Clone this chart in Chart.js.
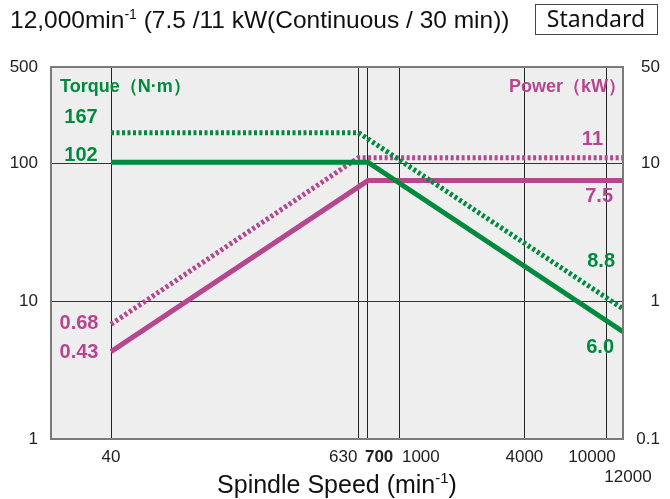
<!DOCTYPE html>
<html>
<head>
<meta charset="utf-8">
<script src="https://cdn.jsdelivr.net/npm/chart.js@4.4.0/dist/chart.umd.min.js"></script>
<style>
  html, body { margin: 0; padding: 0; background: #fff; }
  #wrap { position: relative; width: 670px; height: 499px; }
</style>
</head>
<body>
<div id="wrap"><canvas id="chart"></canvas></div>
<script>
// tick values
const speedTicks = [40, 630, 700, 1000, 4000, 10000, 12000];
const torqueTicks = [1, 10, 100, 500];
const powerTicks = [0.1, 1, 10, 50];

// curves (speed in min-1, torque in N·m, power in kW)
const speeds30 = [40, 630, 12000];
const speedsCont = [40, 700, 12000];
const torque30 = [167, 167, 8.8];
const torqueCont = [102, 102, 6.0];
const power30 = [0.68, 11, 11];
const powerCont = [0.43, 7.5, 7.5];

const GREEN = '#008a3e';
const MAGENTA = '#b5468f';
const FONT = '"Liberation Sans", Arial, Helvetica, sans-serif';

const points = (xs, ys) => xs.map((x, i) => ({ x, y: ys[i] }));

const lineStyle = (color, dotted) => ({
  borderColor: color,
  borderWidth: 5,
  borderDash: dotted ? [3, 2.5] : [],
  pointRadius: 0,
  tension: 0,
  fill: false
});

// draws runs of text with optional superscript parts
const drawRuns = (ctx, runs, x, y, align) => {
  const widths = runs.map(r => {
    ctx.font = `${r.bold ? 'bold ' : ''}${r.size}px ${r.family || FONT}`;
    return ctx.measureText(r.text).width;
  });
  const total = widths.reduce((a, b) => a + b, 0);
  let cx = align === 'center' ? x - total / 2 : align === 'right' ? x - total : x;
  runs.forEach((r, i) => {
    ctx.font = `${r.bold ? 'bold ' : ''}${r.size}px ${r.family || FONT}`;
    ctx.textAlign = 'left';
    ctx.fillText(r.text, cx, y - (r.rise || 0));
    cx += widths[i];
  });
};

const chartDecor = {
  id: 'chartDecor',
  beforeDraw(chart) {
    const { ctx, chartArea: a } = chart;
    ctx.save();
    ctx.fillStyle = '#eeeeee';
    ctx.fillRect(a.left, a.top, a.right - a.left, a.bottom - a.top);
    ctx.restore();
  },
  afterDraw(chart) {
    const { ctx, chartArea: a, scales } = chart;
    const xs = scales.x, yt = scales.y, yp = scales.y1;
    ctx.save();

    // frame
    ctx.strokeStyle = '#7a7a7a';
    ctx.lineWidth = 2;
    ctx.strokeRect(a.left, a.top, a.right - a.left, a.bottom - a.top);

    // speed tick labels
    const xLabelStyle = {
      630: ['right', -1, 0],
      700: ['left', -3, 0],
      1000: ['left', 2, 0],
      10000: ['right', 9, 0],
      12000: ['center', 5, 20]
    };
    ctx.fillStyle = '#222';
    ctx.textBaseline = 'middle';
    speedTicks.forEach(v => {
      const [align, dx, dy] = xLabelStyle[v] || ['center', 0, 0];
      ctx.font = `${v === 700 ? 'bold ' : ''}17px ${FONT}`;
      ctx.textAlign = align;
      ctx.fillText(String(v), xs.getPixelForValue(v) + dx, a.bottom + 18 + dy);
    });

    // axis title
    ctx.fillStyle = '#111';
    ctx.textBaseline = 'alphabetic';
    drawRuns(ctx, [
      { text: 'Spindle Speed (min', size: 25 },
      { text: '-1', size: 15, rise: 10 },
      { text: ')', size: 25 }
    ], 337, 493, 'center');

    // chart title
    drawRuns(ctx, [
      { text: '12,000min', size: 24.5 },
      { text: '-1', size: 14, rise: 9 },
      { text: ' (7.5 /11 kW(Continuous / 30 min))', size: 24.5 }
    ], 10, 28, 'left');

    ctx.strokeStyle = '#444';
    ctx.lineWidth = 1;
    ctx.strokeRect(535.5, 4.5, 122, 30);
    ctx.font = `23px "Noto Sans", "Open Sans", sans-serif`;
    ctx.textAlign = 'center';
    ctx.textBaseline = 'middle';
    ctx.fillText('Standard', 596, 20);

    // series names
    ctx.font = `bold 18px ${FONT}`;
    ctx.fillStyle = GREEN;
    ctx.textAlign = 'left';
    ctx.fillText('Torque（N·m）', a.left + 9, a.top + 20);
    ctx.fillStyle = MAGENTA;
    ctx.textAlign = 'right';
    ctx.fillText('Power（kW）', a.right + 3, a.top + 20);

    // value labels
    ctx.font = `bold 20px ${FONT}`;
    const leftX = (a.left + xs.getPixelForValue(speeds30[0])) / 2;
    const label = (text, color, scale, value, x, align, dy) => {
      ctx.fillStyle = color;
      ctx.textAlign = align;
      ctx.fillText(text, x, scale.getPixelForValue(value) + dy);
    };
    label(String(torque30[0]), GREEN, yt, torque30[0], leftX, 'center', -15);
    label(String(torqueCont[0]), GREEN, yt, torqueCont[0], leftX, 'center', -7);
    label(String(power30[0]), MAGENTA, yp, power30[0], leftX - 2, 'center', -1);
    label(String(powerCont[0]), MAGENTA, yp, powerCont[0], leftX - 2, 'center', 1);
    const n = power30.length - 1;
    label(String(power30[n]), MAGENTA, yp, power30[n], a.right - 20, 'right', -18);
    label(String(powerCont[n]), MAGENTA, yp, powerCont[n], a.right - 10, 'right', 16);
    label(torque30[n].toFixed(1), GREEN, yt, torque30[n], a.right - 8, 'right', -47);
    label(torqueCont[n].toFixed(1), GREEN, yt, torqueCont[n], a.right - 9, 'right', 16);

    ctx.restore();
  }
};

new Chart(document.getElementById('chart'), {
  type: 'line',
  data: {
    datasets: [
      { label: 'Torque (Continuous)', data: points(speedsCont, torqueCont), yAxisID: 'y', ...lineStyle(GREEN, false) },
      { label: 'Torque (30 min)', data: points(speeds30, torque30), yAxisID: 'y', ...lineStyle(GREEN, true) },
      { label: 'Power (Continuous)', data: points(speedsCont, powerCont), yAxisID: 'y1', ...lineStyle(MAGENTA, false) },
      { label: 'Power (30 min)', data: points(speeds30, power30), yAxisID: 'y1', ...lineStyle(MAGENTA, true) }
    ]
  },
  options: {
    responsive: true,
    maintainAspectRatio: false,
    animation: false,
    layout: { padding: { top: 67, right: 10, bottom: 60, left: 0 } },
    plugins: { legend: { display: false }, tooltip: { enabled: false } },
    scales: {
      x: {
        type: 'logarithmic',
        min: 20.5,
        max: 12000,
        afterBuildTicks: s => { s.ticks = speedTicks.map(v => ({ value: v })); },
        afterFit: s => { s.height = 0; },
        ticks: { display: false },
        grid: {
          color: c => (c.tick && c.tick.value === 12000 ? 'rgba(0,0,0,0)' : '#222'),
          lineWidth: 1,
          drawTicks: false
        },
        border: { display: false }
      },
      y: {
        type: 'logarithmic',
        position: 'left',
        min: 1,
        max: 500,
        afterBuildTicks: s => { s.ticks = torqueTicks.map(v => ({ value: v })); },
        afterFit: s => { s.width = 51; },
        ticks: {
          callback: v => String(v),
          color: '#222',
          font: { family: FONT, size: 17 },
          padding: 13
        },
        grid: {
          color: c => (c.tick && (c.tick.value === 10 || c.tick.value === 100) ? '#333' : 'rgba(0,0,0,0)'),
          lineWidth: 1,
          drawTicks: false
        },
        border: { display: false }
      },
      y1: {
        type: 'logarithmic',
        position: 'right',
        min: 0.1,
        max: 50,
        afterBuildTicks: s => { s.ticks = powerTicks.map(v => ({ value: v })); },
        afterFit: s => { s.width = 37; },
        ticks: {
          callback: v => String(v),
          color: '#222',
          font: { family: FONT, size: 17 },
          crossAlign: 'far',
          padding: 0
        },
        grid: { display: false, drawTicks: false },
        border: { display: false }
      }
    }
  },
  plugins: [chartDecor]
});
</script>
</body>
</html>
